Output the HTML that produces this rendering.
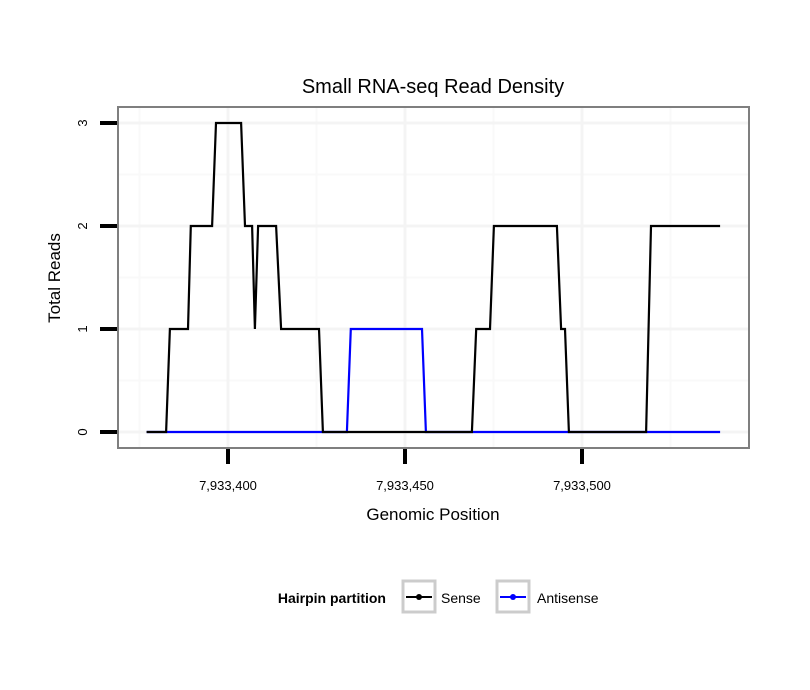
<!DOCTYPE html>
<html><head><meta charset="utf-8"><style>
body{margin:0;background:#fff;}
svg{display:block;font-family:"Liberation Sans",sans-serif;}
</style></head><body>
<svg id="chart" width="810" height="690" xmlns="http://www.w3.org/2000/svg">
<rect width="810" height="690" fill="#fff"/>
<text x="433" y="93" font-size="20" text-anchor="middle">Small RNA-seq Read Density</text>
<g id="grid"></g>
<g id="series"></g>
<rect x="118" y="107" width="631" height="341" fill="none" stroke="#7f7f7f" stroke-width="2"/>
<g id="axes"></g>
<text x="433" y="520" font-size="17" text-anchor="middle">Genomic Position</text>
<text transform="translate(60,278) rotate(-90)" font-size="17" text-anchor="middle">Total Reads</text>
<g>
<text x="386" y="603" font-size="14" font-weight="bold" text-anchor="end">Hairpin partition</text>
<g>
<rect x="403" y="581" width="32" height="31" fill="#fff" stroke="#cccccc" stroke-width="3"/>
<line x1="406" y1="597" x2="432" y2="597" stroke="#000" stroke-width="2"/>
<circle cx="419" cy="597" r="3" fill="#000"/>
<text x="441" y="603" font-size="14">Sense</text>
</g>
<g>
<rect x="497" y="581" width="32" height="31" fill="#fff" stroke="#cccccc" stroke-width="3"/>
<line x1="500" y1="597" x2="526" y2="597" stroke="#0000ff" stroke-width="2"/>
<circle cx="513" cy="597" r="3" fill="#0000ff"/>
<text x="537" y="603" font-size="14">Antisense</text>
</g>
</g>
</svg>
<script>
const senseX = [7933377,7933382.5,7933383.6,7933388.7,7933389.5,7933395.5,7933396.6,7933403.7,7933404.8,7933406.8,7933407.6,7933408.5,7933413.6,7933415,7933425.7,7933426.8,7933468.9,7933470.1,7933474,7933475.1,7933492.9,7933494.1,7933495.2,7933496.3,7933518.1,7933519.5,7933539];
const senseY = [0,0,1,1,2,2,3,3,2,2,1,2,2,1,1,0,0,1,1,2,2,1,1,0,0,2,2];
const antiX = [7933377,7933433.6,7933434.7,7933454.8,7933455.9,7933539];
const antiY = [0,0,1,1,0,0];
const xTicks = [7933400,7933450,7933500];
const xTickLabels = ["7,933,400","7,933,450","7,933,500"];
const yTicks = [0,1,2,3];
const yTickLabels = ["0","1","2","3"];

const NS="http://www.w3.org/2000/svg";
const xs = v => 228 + (v-7933400)*3.54;
const ys = v => 432 - v*103;
function mk(tag, attrs, parent){const e=document.createElementNS(NS,tag);for(const k in attrs)e.setAttribute(k,attrs[k]);parent.appendChild(e);return e;}
const grid=document.getElementById('grid'), axes=document.getElementById('axes'), series=document.getElementById('series');
for(let i=0;i<xTicks.length+1;i++){
  const v=xTicks[0]-25+50*i;
  const l=mk('line',{x1:xs(v),x2:xs(v),y1:108,y2:447,stroke:'#f9f9f9','stroke-width':2},grid);
  
  
}
for(let i=0;i<yTicks.length-1;i++){
  const v=yTicks[i]+0.5;
  const l=mk('line',{x1:119,x2:748,y1:ys(v),y2:ys(v),stroke:'#f9f9f9','stroke-width':2},grid);
  
  
}
xTicks.forEach((v,i)=>{
  const l=mk('line',{x1:xs(v),x2:xs(v),y1:108,y2:447,stroke:'#f4f4f4','stroke-width':3},grid);
  
  
  const t=mk('line',{x1:xs(v),x2:xs(v),y1:449,y2:464,stroke:'#000','stroke-width':4},axes);
  
  
  const tx=mk('text',{x:xs(v),y:490,'font-size':13,'text-anchor':'middle'},axes);
  tx.textContent=xTickLabels[i];
  
  
});
yTicks.forEach((v,i)=>{
  const l=mk('line',{x1:119,x2:748,y1:ys(v),y2:ys(v),stroke:'#f4f4f4','stroke-width':3},grid);
  
  
  const t=mk('line',{x1:100,x2:117,y1:ys(v),y2:ys(v),stroke:'#000','stroke-width':4},axes);
  
  
  const tx=mk('text',{transform:`translate(87,${ys(v)}) rotate(-90)`,'font-size':13,'text-anchor':'middle'},axes);
  tx.textContent=yTickLabels[i];
  
  
});
function path(X,Y,color,name){
  const d=X.map((x,i)=>(i?'L':'M')+xs(x).toFixed(1)+','+ys(Y[i]).toFixed(1)).join(' ');
  const p=mk('path',{d:d,fill:'none',stroke:color,'stroke-width':2.2,'stroke-linejoin':'miter'},series);
  
  
}
path(antiX,antiY,'#0000ff','antisense-line');
path(senseX,senseY,'#000000','sense-line');
</script>
</body></html>
